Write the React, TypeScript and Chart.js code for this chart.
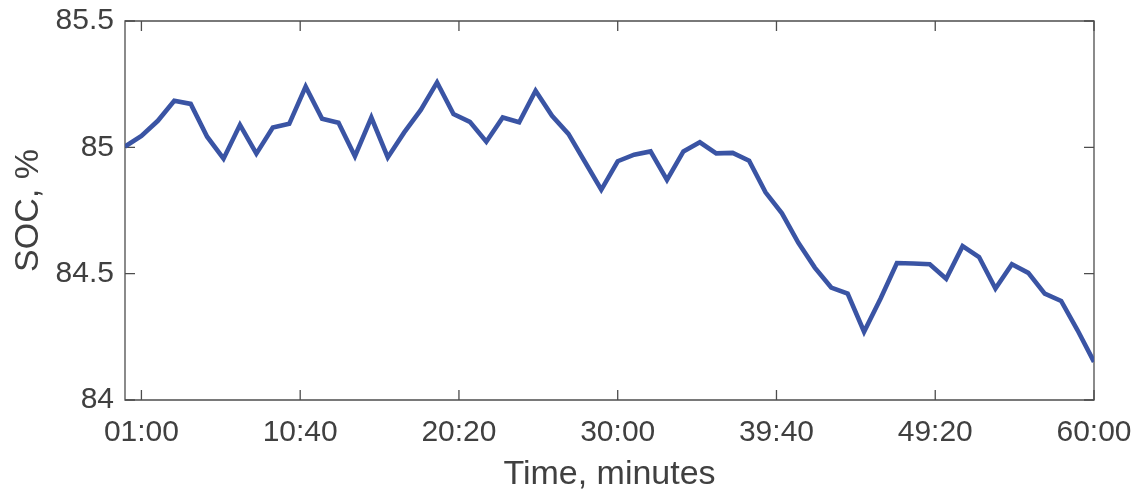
import React, { useEffect, useRef } from "react";
import { Chart, registerables } from "chart.js";

Chart.register(...registerables);

const MINUTES = [
  0, 1, 2, 3, 4, 5, 6, 7, 8, 9, 10, 11, 12, 13, 14, 15, 16, 17, 18, 19,
  20, 21, 22, 23, 24, 25, 26, 27, 28, 29, 30, 31, 32, 33, 34, 35, 36, 37, 38, 39,
  40, 41, 42, 43, 44, 45, 46, 47, 48, 49, 50, 51, 52, 53, 54, 55, 56, 57, 58, 59,
];

const SOC = [
  85.003, 85.045, 85.105, 85.184, 85.172, 85.042, 84.955, 85.089, 84.975, 85.078,
  85.093, 85.24, 85.113, 85.097, 84.965, 85.118, 84.96, 85.059, 85.147, 85.257,
  85.132, 85.101, 85.022, 85.118, 85.099, 85.224, 85.125, 85.053, 84.943, 84.832,
  84.945, 84.971, 84.984, 84.871, 84.984, 85.02, 84.976, 84.978, 84.947, 84.822,
  84.739, 84.622, 84.524, 84.445, 84.421, 84.27, 84.401, 84.542, 84.54, 84.537,
  84.48, 84.609, 84.566, 84.441, 84.537, 84.503, 84.421, 84.392, 84.276, 84.151,
];

const X_TICK_POS = [1, 10.6667, 20.3333, 30, 39.6667, 49.3333, 59];
const X_TICK_LABELS = ["01:00", "10:40", "20:20", "30:00", "39:40", "49:20", "60:00"];
const Y_TICKS = [84, 84.5, 85, 85.5];

const FONT = "'Liberation Sans', Arial, Helvetica, sans-serif";
const TEXT = "#404040";
const AXIS = "#4d4d4d";

const boxPlugin = {
  id: "matlabBox",
  beforeDatasetsDraw(chart: any) {
    const { ctx, chartArea, scales } = chart;
    const { left, right, top, bottom } = chartArea;
    const tl = 10;
    ctx.save();
    ctx.strokeStyle = AXIS;
    ctx.lineWidth = 1.3;
    ctx.beginPath();
    ctx.rect(left, top, right - left, bottom - top);
    ctx.stroke();
    ctx.beginPath();
    for (const v of X_TICK_POS) {
      const px = scales.x.getPixelForValue(v);
      ctx.moveTo(px, bottom);
      ctx.lineTo(px, bottom - tl);
      ctx.moveTo(px, top);
      ctx.lineTo(px, top + tl);
    }
    for (const v of Y_TICKS) {
      const py = scales.y.getPixelForValue(v);
      ctx.moveTo(left, py);
      ctx.lineTo(left + tl, py);
      ctx.moveTo(right, py);
      ctx.lineTo(right - tl, py);
    }
    ctx.stroke();
    ctx.restore();
  },
};

export default function App() {
  const ref = useRef<HTMLCanvasElement | null>(null);

  useEffect(() => {
    if (!ref.current) return;
    const chart = new Chart(ref.current, {
      type: "line",
      data: {
        datasets: [
          {
            data: SOC.map((y, i) => ({ x: MINUTES[i], y })),
            borderColor: "#3a54a4",
            borderWidth: 4.6,
            pointRadius: 0,
            tension: 0,
            fill: false,
          },
        ],
      },
      options: {
        animation: false,
        responsive: true,
        maintainAspectRatio: false,
        layout: { padding: { left: 0, top: 12, right: 53, bottom: 0 } },
        plugins: { legend: { display: false }, tooltip: { enabled: false } },
        scales: {
          x: {
            type: "linear",
            min: 0,
            max: 59,
            afterFit: (s: any) => {
              s.height = 99;
            },
            afterBuildTicks: (s: any) => {
              s.ticks = X_TICK_POS.map((v) => ({ value: v }));
            },
            grid: { display: false },
            border: { display: false },
            ticks: {
              autoSkip: false,
              maxRotation: 0,
              padding: 7,
              color: TEXT,
              font: { family: FONT, size: 30 },
              callback: (_v: any, i: number) => X_TICK_LABELS[i],
            },
            title: {
              display: true,
              text: "Time, minutes",
              color: TEXT,
              font: { family: FONT, size: 34, lineHeight: 1.2 },
              padding: { top: 0, bottom: 4 },
            },
          },
          y: {
            min: 84,
            max: 85.5,
            afterFit: (s: any) => {
              s.width = 125;
            },
            afterBuildTicks: (s: any) => {
              s.ticks = Y_TICKS.map((v) => ({ value: v }));
            },
            grid: { display: false },
            border: { display: false },
            ticks: {
              padding: 3,
              color: TEXT,
              font: { family: FONT, size: 30 },
              callback: (v: any) => String(v),
            },
            title: {
              display: true,
              text: "SOC, %",
              color: TEXT,
              font: { family: FONT, size: 34, lineHeight: 1.2 },
              padding: { top: 8, bottom: 0 },
            },
          },
        },
      },
      plugins: [boxPlugin],
    });
    return () => chart.destroy();
  }, []);

  return (
    <div style={{ position: "fixed", left: 0, top: 0, width: 1147, height: 499, background: "#fff" }}>
      <canvas ref={ref} />
    </div>
  );
}
